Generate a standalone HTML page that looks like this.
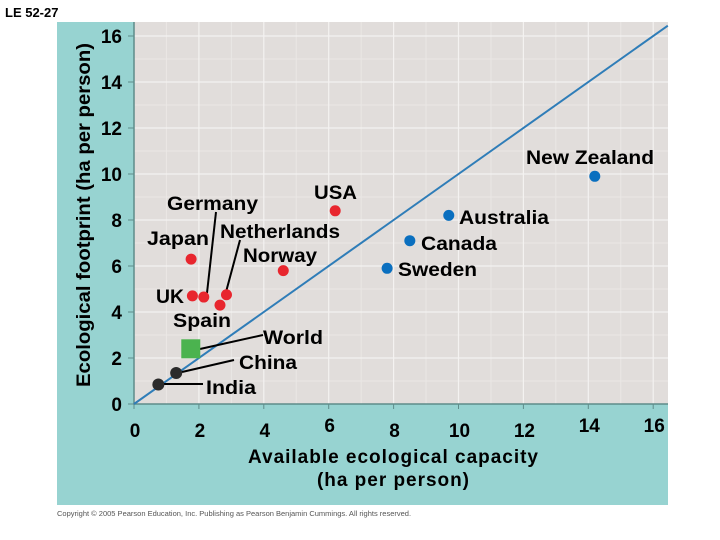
<!DOCTYPE html>
<html><head><meta charset="utf-8"><style>
html,body{margin:0;padding:0;background:#fff;}
svg{display:block;font-family:"Liberation Sans",Arial,sans-serif;}
</style></head><body>
<svg width="720" height="540" viewBox="0 0 720 540" xmlns="http://www.w3.org/2000/svg">
<text x="5" y="17" font-size="13" font-weight="bold">LE 52-27</text>
<rect x="57" y="22" width="611" height="483" fill="#97d3d1"/>
<rect x="134" y="22" width="534" height="382" fill="#e1dddb"/>
<g id="grid"></g>
<g id="axes"></g>
<g id="marks"></g>
<g id="labels" font-weight="bold" font-size="19"></g>
<text x="84" y="221" font-size="19" font-weight="bold" text-anchor="middle" transform="rotate(-90 84 215)" textLength="344" lengthAdjust="spacingAndGlyphs">Ecological footprint (ha per person)</text>
<text x="393" y="463" font-size="19" font-weight="bold" text-anchor="middle" textLength="290">Available ecological capacity</text>
<text x="393" y="486" font-size="19" font-weight="bold" text-anchor="middle" textLength="152">(ha per person)</text>
<text x="57" y="516" font-size="7.5" fill="#555">Copyright © 2005 Pearson Education, Inc. Publishing as Pearson Benjamin Cummings. All rights reserved.</text>
</svg>
<script>
const xTicks=[0,2,4,6,8,10,12,14,16];
const yTicks=[0,2,4,6,8,10,12,14,16];
const minorTicks=[1,3,5,7,9,11,13,15];
const redNames=["Japan","UK","Germany","Netherlands","Spain","Norway","USA"];
const redX=[1.76,1.8,2.15,2.85,2.65,4.6,6.2];
const redY=[6.3,4.7,4.65,4.75,4.3,5.8,8.4];
const blueNames=["Sweden","Canada","Australia","New Zealand"];
const blueX=[7.8,8.5,9.7,14.2];
const blueY=[5.9,7.1,8.2,9.9];
const blackNames=["India","China"];
const blackX=[0.75,1.3];
const blackY=[0.85,1.35];
const worldX=[1.75];
const worldY=[2.4];
const NS="http://www.w3.org/2000/svg";
const sx=v=>134+v*32.45, sy=v=>404-v*23;
function mk(tag,attrs,parent){const e=document.createElementNS(NS,tag);for(const k in attrs)e.setAttribute(k,attrs[k]);parent.appendChild(e);return e;}
const grid=document.getElementById('grid'),axes=document.getElementById('axes'),marks=document.getElementById('marks'),labels=document.getElementById('labels');
minorTicks.forEach(t=>{const a=mk('line',{x1:sx(t),x2:sx(t),y1:22,y2:404,stroke:'#eae7e5','stroke-width':1},grid);


const b=mk('line',{x1:134,x2:668,y1:sy(t),y2:sy(t),stroke:'#eae7e5','stroke-width':1},grid);

});
xTicks.forEach(t=>{if(t>0){const l=mk('line',{x1:sx(t),x2:sx(t),y1:22,y2:404,stroke:'#f4f2f1','stroke-width':1.2},grid);

}
const tk=mk('line',{x1:sx(t),x2:sx(t),y1:404,y2:409,stroke:'#5f8c8a','stroke-width':1},axes);


const tx=mk('text',{x:sx(t)+1,y:(t===6||t>=14)?432:437,'font-size':19,'font-weight':'bold','text-anchor':'middle'},axes);
tx.textContent=t;

});
yTicks.forEach(t=>{if(t>0){const l=mk('line',{x1:134,x2:668,y1:sy(t),y2:sy(t),stroke:'#f4f2f1','stroke-width':1.2},grid);

}
const tk=mk('line',{x1:128,x2:134,y1:sy(t),y2:sy(t),stroke:'#5f8c8a','stroke-width':1},axes);


const tx=mk('text',{x:122,y:sy(t)+7,'font-size':19,'font-weight':'bold','text-anchor':'end'},axes);
tx.textContent=t;

});
const ax=mk('path',{d:'M134 22 V404 H668',fill:'none',stroke:'#5f8c8a','stroke-width':1.5},axes);


const eq=mk('line',{x1:sx(0),y1:sy(0),x2:sx(16.45),y2:sy(16.45),stroke:'#2f7db8','stroke-width':2},marks);


const leaders=[[216,212,207,293],[240,240,226,292],[200,349,263,335],[182,372,234,360],[163,384,203,384]];
leaders.forEach(a=>{const l=mk('line',{x1:a[0],y1:a[1],x2:a[2],y2:a[3],stroke:'#000','stroke-width':2},marks);

});
redX.forEach((v,i)=>{const c=mk('circle',{cx:sx(v),cy:sy(redY[i]),r:5.5,fill:'#e8262e'},marks);

});
blueX.forEach((v,i)=>{const c=mk('circle',{cx:sx(v),cy:sy(blueY[i]),r:5.5,fill:'#0a6fbf'},marks);

});
blackX.forEach((v,i)=>{const c=mk('circle',{cx:sx(v),cy:sy(blackY[i]),r:6,fill:'#2b2b2b'},marks);

});
worldX.forEach((v,i)=>{const r=mk('rect',{x:sx(v)-9.5,y:sy(worldY[i])-9.5,width:19,height:19,fill:'#4bb34f'},marks);

});
const lab=[["Germany",167,210,91],["Netherlands",220,238,120],["Japan",147,245,62],["Norway",243,262,74],["USA",314,199,43],["UK",156,303,28],["Spain",173,327,58],["World",263,344,60],["China",239,369,58],["India",206,394,50],["New Zealand",526,164,128],["Australia",459,224,90],["Canada",421,250,76],["Sweden",398,276,79]];
lab.forEach(a=>{const t=mk('text',{x:a[1],y:a[2],textLength:a[3],lengthAdjust:'spacingAndGlyphs'},labels);
t.textContent=a[0];

});
</script>
</body></html>
